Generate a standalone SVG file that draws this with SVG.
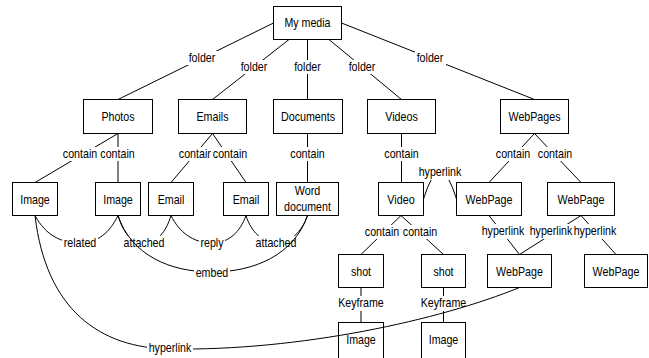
<svg xmlns="http://www.w3.org/2000/svg" width="649" height="358" viewBox="0 0 649 358">
<style>
.box{fill:#fff;stroke:#000;stroke-width:1}
.t{font-family:'Liberation Sans',Arial,sans-serif;font-size:13px;text-anchor:middle;fill:#000}
.e{fill:none;stroke:#000;stroke-width:1}
.lb{fill:#fff}
</style>
<rect width="649" height="358" fill="#fff"/>
<g id="nodes">
<g id="n-mymedia"><rect class="box" x="273.5" y="6.5" width="68" height="33"/><text class="t" x="307.5" y="27" textLength="46" lengthAdjust="spacingAndGlyphs">My media</text></g>
<g id="n-photos"><rect class="box" x="83.5" y="99.5" width="69" height="34"/><text class="t" x="118" y="121" textLength="33" lengthAdjust="spacingAndGlyphs">Photos</text></g>
<g id="n-emails"><rect class="box" x="178.5" y="99.5" width="68" height="34"/><text class="t" x="212.5" y="121" textLength="32" lengthAdjust="spacingAndGlyphs">Emails</text></g>
<g id="n-documents"><rect class="box" x="273.5" y="99.5" width="69" height="34"/><text class="t" x="308" y="121" textLength="54" lengthAdjust="spacingAndGlyphs">Documents</text></g>
<g id="n-videos"><rect class="box" x="367.5" y="99.5" width="68" height="34"/><text class="t" x="401.5" y="121" textLength="32.6" lengthAdjust="spacingAndGlyphs">Videos</text></g>
<g id="n-webpages"><rect class="box" x="500.5" y="99.5" width="68" height="34"/><text class="t" x="534.5" y="121" textLength="52" lengthAdjust="spacingAndGlyphs">WebPages</text></g>
<g id="n-image1"><rect class="box" x="12.5" y="182.5" width="45" height="33"/><text class="t" x="35" y="204" textLength="29.6" lengthAdjust="spacingAndGlyphs">Image</text></g>
<g id="n-image2"><rect class="box" x="95.5" y="182.5" width="45" height="33"/><text class="t" x="118" y="204" textLength="29.6" lengthAdjust="spacingAndGlyphs">Image</text></g>
<g id="n-email1"><rect class="box" x="148.5" y="182.5" width="45" height="33"/><text class="t" x="171" y="204" textLength="26.7" lengthAdjust="spacingAndGlyphs">Email</text></g>
<g id="n-email2"><rect class="box" x="223.5" y="182.5" width="45" height="33"/><text class="t" x="246" y="204" textLength="26.7" lengthAdjust="spacingAndGlyphs">Email</text></g>
<g id="n-worddoc"><rect class="box" x="276.5" y="182.5" width="62" height="33"/><text class="t" x="307.5" y="195" textLength="25.5" lengthAdjust="spacingAndGlyphs">Word</text><text class="t" x="307.5" y="211" textLength="46.8" lengthAdjust="spacingAndGlyphs">document</text></g>
<g id="n-video"><rect class="box" x="378.5" y="182.5" width="45" height="33"/><text class="t" x="401" y="204" textLength="27.3" lengthAdjust="spacingAndGlyphs">Video</text></g>
<g id="n-webpage1"><rect class="box" x="456.5" y="182.5" width="65" height="33"/><text class="t" x="489" y="204" textLength="46.8" lengthAdjust="spacingAndGlyphs">WebPage</text></g>
<g id="n-webpage2"><rect class="box" x="547.5" y="182.5" width="67" height="33"/><text class="t" x="581" y="204" textLength="46.8" lengthAdjust="spacingAndGlyphs">WebPage</text></g>
<g id="n-shot1"><rect class="box" x="338.5" y="254.5" width="45" height="33"/><text class="t" x="361" y="276" textLength="20.1" lengthAdjust="spacingAndGlyphs">shot</text></g>
<g id="n-shot2"><rect class="box" x="421.5" y="254.5" width="44" height="33"/><text class="t" x="443.5" y="276" textLength="20.1" lengthAdjust="spacingAndGlyphs">shot</text></g>
<g id="n-webpage3"><rect class="box" x="487.5" y="254.5" width="64" height="33"/><text class="t" x="519.5" y="276" textLength="46.8" lengthAdjust="spacingAndGlyphs">WebPage</text></g>
<g id="n-webpage4"><rect class="box" x="584.5" y="254.5" width="63" height="33"/><text class="t" x="616" y="276" textLength="46.8" lengthAdjust="spacingAndGlyphs">WebPage</text></g>
<g id="n-image3"><rect class="box" x="338.5" y="322.5" width="45" height="40"/><text class="t" x="361" y="344" textLength="29.6" lengthAdjust="spacingAndGlyphs">Image</text></g>
<g id="n-image4"><rect class="box" x="421.5" y="322.5" width="44" height="40"/><text class="t" x="443.5" y="344" textLength="29.6" lengthAdjust="spacingAndGlyphs">Image</text></g>
</g>
<g id="connectors">
<path class="e" d="M273.5,23 L118,99.5"/><rect class="lb" x="187" y="51" width="31" height="14"/><text class="t" x="202" y="62" textLength="26.7" lengthAdjust="spacingAndGlyphs">folder</text>
<path class="e" d="M289,39.5 L212.5,99.5"/><rect class="lb" x="239" y="60" width="31" height="14"/><text class="t" x="254" y="71" textLength="26.7" lengthAdjust="spacingAndGlyphs">folder</text>
<path class="e" d="M307.5,39.5 L307.5,99.5"/><rect class="lb" x="292" y="60" width="31" height="14"/><text class="t" x="307.5" y="71" textLength="26.7" lengthAdjust="spacingAndGlyphs">folder</text>
<path class="e" d="M329,39.5 L401.5,99.5"/><rect class="lb" x="347" y="60" width="31" height="14"/><text class="t" x="362" y="71" textLength="26.7" lengthAdjust="spacingAndGlyphs">folder</text>
<path class="e" d="M341.5,23 L534.5,99.5"/><rect class="lb" x="415" y="51" width="31" height="14"/><text class="t" x="430" y="62" textLength="26.7" lengthAdjust="spacingAndGlyphs">folder</text>
<path class="e" d="M118,133.5 L35,182.5"/><rect class="lb" x="62" y="147" width="36" height="14"/><text class="t" x="80" y="158" textLength="34.4" lengthAdjust="spacingAndGlyphs">contain</text>
<path class="e" d="M118,133.5 L118,182.5"/><rect class="lb" x="99.5" y="147" width="36" height="14"/><text class="t" x="117.5" y="158" textLength="34.4" lengthAdjust="spacingAndGlyphs">contain</text>
<path class="e" d="M212.5,133.5 L171,182.5"/><rect class="lb" x="178" y="147" width="36" height="14"/><text class="t" x="196" y="158" textLength="34.4" lengthAdjust="spacingAndGlyphs">contain</text>
<path class="e" d="M212.5,133.5 L246,182.5"/><rect class="lb" x="211" y="147" width="37" height="14"/><text class="t" x="230" y="158" textLength="34.4" lengthAdjust="spacingAndGlyphs">contain</text>
<path class="e" d="M307.5,133.5 L307.5,182.5"/><rect class="lb" x="289.5" y="147" width="36" height="14"/><text class="t" x="307.5" y="158" textLength="34.4" lengthAdjust="spacingAndGlyphs">contain</text>
<path class="e" d="M401.5,133.5 L401.5,182.5"/><rect class="lb" x="383.5" y="147" width="36" height="14"/><text class="t" x="401.5" y="158" textLength="34.4" lengthAdjust="spacingAndGlyphs">contain</text>
<path class="e" d="M534.5,133.5 L489,182.5"/><rect class="lb" x="495" y="147" width="36" height="14"/><text class="t" x="513" y="158" textLength="34.4" lengthAdjust="spacingAndGlyphs">contain</text>
<path class="e" d="M534.5,133.5 L581,182.5"/><rect class="lb" x="537" y="147" width="36" height="14"/><text class="t" x="555" y="158" textLength="34.4" lengthAdjust="spacingAndGlyphs">contain</text>
<path class="e" d="M423.5,199 Q440,145 456.5,199"/><rect class="lb" x="417" y="164" width="46" height="16"/><text class="t" x="440" y="176" textLength="42.7" lengthAdjust="spacingAndGlyphs">hyperlink</text>
<path class="e" d="M401,215.5 L361,254.5"/><rect class="lb" x="364" y="225" width="36" height="14"/><text class="t" x="382" y="236" textLength="34.4" lengthAdjust="spacingAndGlyphs">contain</text>
<path class="e" d="M401,215.5 L443.5,254.5"/><rect class="lb" x="402" y="225" width="36" height="14"/><text class="t" x="420" y="236" textLength="34.4" lengthAdjust="spacingAndGlyphs">contain</text>
<path class="e" d="M489,215.5 L519.5,254.5"/><rect class="lb" x="481" y="224" width="45" height="15"/><text class="t" x="503" y="235" textLength="42.7" lengthAdjust="spacingAndGlyphs">hyperlink</text>
<path class="e" d="M581,215.5 L519.5,254.5"/><rect class="lb" x="529" y="224" width="44" height="15"/><text class="t" x="551" y="235" textLength="42.7" lengthAdjust="spacingAndGlyphs">hyperlink</text>
<path class="e" d="M581,215.5 L616,254.5"/><rect class="lb" x="573" y="224" width="45" height="15"/><text class="t" x="595" y="235" textLength="42.7" lengthAdjust="spacingAndGlyphs">hyperlink</text>
<path class="e" d="M361,287.5 L361,322.5"/><rect class="lb" x="337" y="296" width="48" height="15"/><text class="t" x="361" y="307" textLength="45.6" lengthAdjust="spacingAndGlyphs">Keyframe</text>
<path class="e" d="M443.5,287.5 L443.5,322.5"/><rect class="lb" x="419.5" y="296" width="48" height="15"/><text class="t" x="443.5" y="307" textLength="45.6" lengthAdjust="spacingAndGlyphs">Keyframe</text>
<path class="e" d="M35,215.5 C46,236 62,243 80,243 C98,243 110,232 118,215.5"/><rect class="lb" x="62" y="236" width="36" height="14"/><text class="t" x="80" y="247" textLength="32.6" lengthAdjust="spacingAndGlyphs">related</text>
<path class="e" d="M118,215.5 C123,232 131,243 144,243 C157,243 166,232 171,215.5"/><rect class="lb" x="122" y="236" width="44" height="14"/><text class="t" x="144" y="247" textLength="40.9" lengthAdjust="spacingAndGlyphs">attached</text>
<path class="e" d="M171,215.5 C179,232 193,243 212,243 C229,243 240,232 246,215.5"/><rect class="lb" x="199" y="236" width="26" height="15"/><text class="t" x="212" y="247" textLength="23.1" lengthAdjust="spacingAndGlyphs">reply</text>
<path class="e" d="M246,215.5 C251,232 263,243 276,243 C290,243 302,232 307.5,215.5"/><rect class="lb" x="254" y="236" width="44" height="14"/><text class="t" x="276" y="247" textLength="40.9" lengthAdjust="spacingAndGlyphs">attached</text>
<path class="e" d="M118,215.5 C131,255 170,272 212,272 C254,272 294,255 307.5,215.5"/><rect class="lb" x="194" y="266" width="36" height="14"/><text class="t" x="212" y="277" textLength="32.6" lengthAdjust="spacingAndGlyphs">embed</text>
<path class="e" d="M35,215.5 C46,310 100,348 170,349 C300,351 440,320 519.5,287.5"/><rect class="lb" x="147" y="341" width="46" height="15"/><text class="t" x="170" y="352" textLength="42.7" lengthAdjust="spacingAndGlyphs">hyperlink</text>
</g>
</svg>
